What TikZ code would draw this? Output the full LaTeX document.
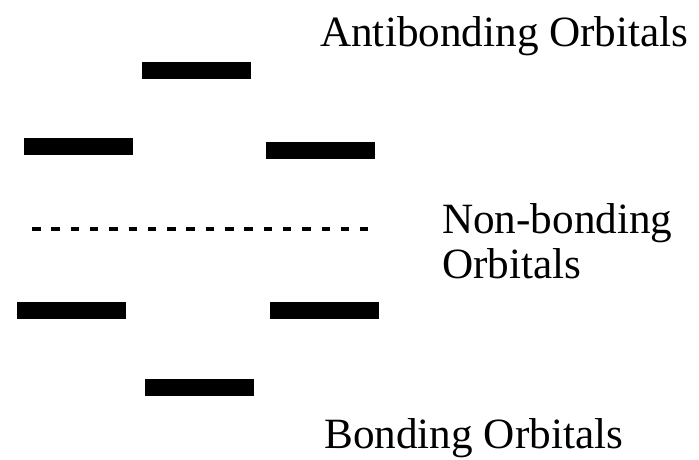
\documentclass[tikz,border=0pt]{standalone}
\usepackage{fontspec}
\setmainfont{Liberation Serif}
\begin{document}
\begin{tikzpicture}[x=1pt,y=-1pt,
  level/.style={fill=black,draw=none,inner sep=0pt,minimum width=109pt,minimum height=17pt,rectangle},
  lbl/.style={anchor=base west,inner sep=0pt,font=\fontsize{43.2}{45}\selectfont},
  nbline/.style={line width=4pt,dash pattern=on 8.5pt off 10.8pt}]
\useasboundingbox (0,0) rectangle (699,460);
% antibonding levels
\node[level] (a1) at (196.5,70.5) {};
\node[level] (a2) at (78.5,146.5) {};
\node[level] (a3) at (320.5,150.5) {};
% non-bonding level
\coordinate (n1) at (32,228.5);
\coordinate (n2) at (368,228.5);
\draw[nbline] (n1) -- (n2);
% bonding levels
\node[level] (b1) at (71.5,310.5) {};
\node[level] (b2) at (324.5,310.5) {};
\node[level] (b3) at (199.5,387) {};
% labels
\node[lbl] (tA) at (320,46.7) {Antibonding Orbitals};
\node[lbl] (tN1) at (442,233.3) {Non-bonding};
\node[lbl] (tN2) at (442,278.3) {Orbitals};
\node[lbl] (tB) at (324,448.3) {Bonding Orbitals};
\end{tikzpicture}
\end{document}
